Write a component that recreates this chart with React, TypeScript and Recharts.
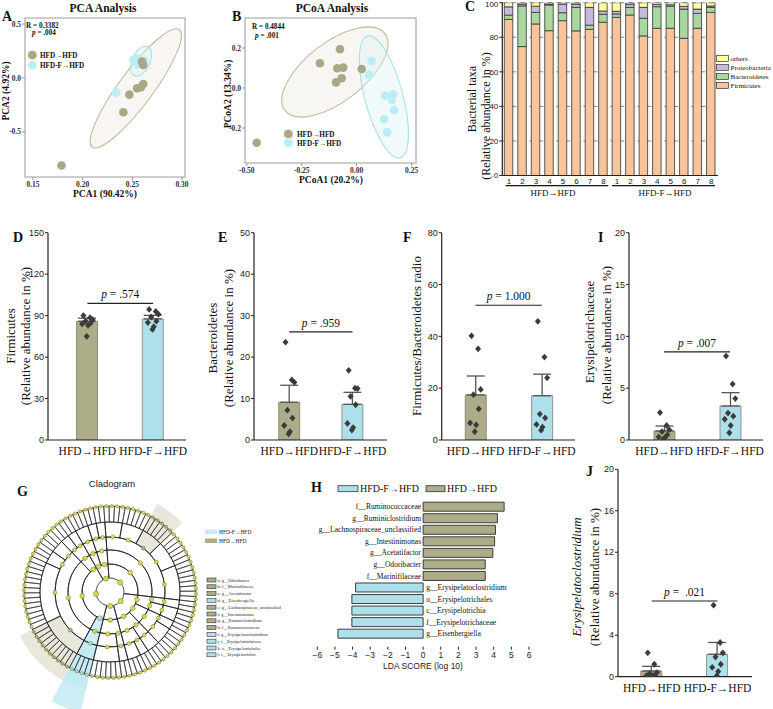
import React from 'react'
import {
  ScatterChart,
  Scatter,
  XAxis,
  YAxis,
  ReferenceArea,
  BarChart,
  Bar,
  CartesianGrid,
  ComposedChart,
  ErrorBar,
  ReferenceLine,
  Cell,
  LabelList,
  PieChart,
  Pie,
} from 'recharts'

const W = 773
const H = 709
const OLIVE = '#ADAC88'
const CYAN = '#ADE0EA'
const NODE = '#D8D852'
const SERIF = '"Liberation Serif", "Times New Roman", serif'
const SANS = '"Liberation Sans", Arial, sans-serif'

// ---- A: PCA ----
const pcaHfd = [
  { x: 0.2597, y: 0.151 }, { x: 0.261, y: 0.12 }, { x: 0.261, y: -0.056 }, { x: 0.2587, y: -0.086 },
  { x: 0.2547, y: -0.096 }, { x: 0.247, y: -0.155 }, { x: 0.241, y: -0.318 }, { x: 0.1787, y: -0.812 },
]
const pcaHfdF = [
  { x: 0.2337, y: -0.136 }, { x: 0.2537, y: 0.182 }, { x: 0.251, y: 0.165 }, { x: 0.256, y: 0.175 },
  { x: 0.258, y: 0.14 }, { x: 0.262, y: 0.16 }, { x: 0.255, y: 0.125 }, { x: 0.26, y: 0.135 },
]
const pcaCentres = [{ x: 0.2535, y: -0.097 }, { x: 0.2588, y: 0.155 }]

// ---- B: PCoA ----
const pcoaHfd = [
  { x: -0.167, y: 0.124 }, { x: -0.076, y: 0.194 }, { x: -0.088, y: 0.099 }, { x: -0.061, y: 0.102 },
  { x: -0.068, y: 0.049 }, { x: -0.094, y: 0.028 }, { x: 0.023, y: 0.095 }, { x: -0.455, y: -0.274 },
]
const pcoaHfdF = [
  { x: 0.068, y: 0.135 }, { x: 0.057, y: 0.065 }, { x: 0.129, y: -0.038 }, { x: 0.166, y: -0.03 },
  { x: 0.17, y: -0.11 }, { x: 0.125, y: -0.157 }, { x: 0.139, y: -0.222 }, { x: 0.16, y: -0.06 },
]
const pcoaCentres = [{ x: -0.099, y: 0.08 }, { x: 0.124, y: -0.045 }]

// ---- C: stacked taxa ----
const sampleIds = ['a1', 'a2', 'a3', 'a4', 'a5', 'a6', 'a7', 'a8', 'b1', 'b2', 'b3', 'b4', 'b5', 'b6', 'b7', 'b8']
const firmicutes = [90.3, 74.6, 87.7, 83.8, 89.6, 83.7, 84.6, 88.7, 91.5, 92.9, 80.8, 85.2, 85.2, 79.4, 85.2, 94.4]
const bacteroidetes = [2.5, 23.5, 6.7, 14.9, 4.6, 13.6, 2.4, 4.6, 2.0, 4.4, 10.2, 12.5, 12.8, 16.9, 8.6, 2.9]
const proteobacteria = [4.8, 1.1, 3.6, 0.5, 5.0, 1.9, 10.3, 1.9, 1.5, 1.9, 6.3, 1.3, 0.8, 1.6, 2.5, 0.8]
const others = [2.4, 0.8, 2.0, 0.8, 0.8, 0.8, 2.7, 4.8, 5.0, 0.8, 2.7, 1.0, 1.2, 2.1, 3.7, 1.9]
const taxaColors = { firm: '#F8C49B', bact: '#A8D8A0', proteo: '#C5B9DE', others: '#FFFFA0' }

// ---- D, E, F, I, J: group bars ----
const groups = ['HFD→HFD', 'HFD-F→HFD']
const jitter = [-0.06, 0.04, 0.08, -0.03, 0.05, -0.08, 0.01, -0.01]

const firmHfd = [90, 88.5, 87, 86, 84.5, 84, 83, 75]
const firmHfdF = [94.5, 93, 91, 89, 86, 85, 82, 80]
const firmMean = [85.9, 87.6]
const firmSd = [2.3, 2.6]

const bactHfd = [23.6, 14.5, 13.9, 7.2, 5.3, 3.5, 2.0, 1.5]
const bactHfdF = [16.8, 12.5, 12.4, 10.5, 8.5, 4.0, 3.0, 2.4]
const bactMean = [9.1, 8.6]
const bactSd = [4.1, 2.9]

const ratioHfd = [40.2, 35.2, 19.5, 17.5, 12, 6.6, 5.8, 3.2]
const ratioHfdF = [45.8, 32, 24, 10, 8.5, 6, 5, 3.8]
const ratioMean = [17.4, 17.1]
const ratioSd = [7.3, 8.3]

const erysHfd = [2.65, 1.4, 1.0, 0.8, 0.5, 0.3, 0.2, 0.1]
const erysHfdF = [8.1, 5.4, 4.0, 2.6, 2.3, 2.0, 1.4, 0.7]
const erysMean = [0.87, 3.28]
const erysSd = [0.48, 1.29]

const clostHfd = [2.3, 1.2, 0.4, 0.3, 0.2, 0.1, 0.1, 0.05]
const clostHfdF = [6.9, 3.3, 2.3, 1.9, 1.2, 0.9, 0.5, 0.1]
const clostMean = [0.55, 2.16]
const clostSd = [0.45, 1.14]

// ---- H: LDA ----
const ldaNames = [
  'f__Ruminococcaceae', 'g__Ruminiclostridium', 'g__Lachnospiraceae_unclassified', 'g__Intestinimonas',
  'g__Acetatifactor', 'g__Odoribacter', 'f__Marinifilaceae', 'g__Erysipelatoclostridium',
  'o__Erysipelotrichales', 'c__Erysipelotrichia', 'f__Erysipelotrichaceae', 'g__Eisenbergiella',
]
const ldaScores = [4.59, 4.21, 4.1, 4.05, 3.95, 3.52, 3.52, -3.83, -4.04, -4.04, -4.04, -4.83]

// ---- G: cladogram (leaf counts per clade, ring by ring) ----
const phylumLeaves = [19, 28, 7, 38, 8]
const classLeaves = [8, 6, 5, 28, 4, 3, 4, 30, 4, 8]
const classTag = ['', '', '', '', '', '', '', '', 'hfdf', '']
const orderLeaves = [5, 3, 6, 3, 2, 28, 4, 3, 4, 30, 4, 6, 2]
const familyLeaves = [3, 2, 3, 4, 2, 3, 2, 8, 6, 5, 5, 4, 2, 2, 3, 2, 2, 3, 3, 14, 10, 4, 6, 2]
const familyTag = ['', '', '', '', '', '', '', '', '', 'hfd', '', '', '', '', '', '', '', '', '', '', 'hfd', 'hfdf', '', '']
const cladeLegend = [
  'a: g__Odoribacter', 'b: f__Marinifilaceae', 'c: g__Acetatifactor', 'd: g__Eisenbergiella',
  'e: g__Lachnospiraceae_unclassified', 'f: g__Intestinimonas', 'g: g__Ruminiclostridium', 'h: f__Ruminococcaceae',
  'i: g__Erysipelatoclostridium', 'j: f__Erysipelotrichaceae', 'k: o__Erysipelotrichales', 'l: c__Erysipelotrichia',
]
const cladeLegendGroup = ['hfd', 'hfd', 'hfd', 'hfdf', 'hfd', 'hfd', 'hfd', 'hfd', 'hfdf', 'hfdf', 'hfdf', 'hfdf']

const RAD = Math.PI / 180

const box = (l: number, t: number, r: number, b: number, yw = 20, xh = 20) => ({
  left: l - yw,
  top: t,
  right: W - r,
  bottom: H - b - xh,
})

const Layer = ({ children }: { children: React.ReactNode }) => (
  <div style={{ position: 'absolute', left: 0, top: 0 }}>{children}</div>
)

const dot = (fill: string) => (p: any) => <circle cx={p.cx} cy={p.cy} r={4.3} fill={fill} />

const ellipse = (rx: number, ry: number, rot: number, stroke: string, fill: string) => (p: any) => (
  <ellipse
    cx={p.cx}
    cy={p.cy}
    rx={rx}
    ry={ry}
    transform={`rotate(${rot} ${p.cx} ${p.cy})`}
    fill={fill}
    fillOpacity={0.45}
    stroke={stroke}
    strokeWidth={1.1}
  />
)

const diamond = (p: any) => (
  <polygon
    points={`${p.cx},${p.cy - 3.4} ${p.cx + 3},${p.cy} ${p.cx},${p.cy + 3.4} ${p.cx - 3},${p.cy}`}
    fill="#3b3b3b"
  />
)

const ordTick = { fontFamily: SERIF, fontWeight: 700, fontSize: 7.5, fill: '#333' }

function OrdPanel({ frame, xDom, yDom, xTicks, yTicks, hfd, hfdf, centres, shapes }: any) {
  return (
    <Layer>
      <ScatterChart width={W} height={H} margin={box(frame[0], frame[1], frame[2], frame[3])}>
        <XAxis
          type="number"
          dataKey="x"
          domain={xDom}
          ticks={xTicks}
          allowDataOverflow
          height={20}
          axisLine={false}
          tickSize={3}
          tickLine={{ stroke: '#999' }}
          tick={ordTick}
          tickFormatter={(v: number) => v.toFixed(2)}
        />
        <YAxis
          type="number"
          dataKey="y"
          domain={yDom}
          ticks={yTicks}
          allowDataOverflow
          width={20}
          axisLine={false}
          tickSize={3}
          tickMargin={1}
          tickLine={{ stroke: '#999' }}
          tick={ordTick}
          tickFormatter={(v: number) => v.toFixed(1)}
        />
        <ReferenceArea x1={xDom[0]} x2={xDom[1]} y1={yDom[0]} y2={yDom[1]} fill="none" stroke="#BDBDBD" strokeWidth={1.6} />
        <Scatter data={[centres[0]]} shape={shapes[0]} isAnimationActive={false} />
        <Scatter data={[centres[1]]} shape={shapes[1]} isAnimationActive={false} />
        <Scatter data={hfdf} shape={dot('#B9EEF2')} isAnimationActive={false} />
        <Scatter data={hfd} shape={dot('#A9A884')} isAnimationActive={false} />
      </ScatterChart>
    </Layer>
  )
}

const pLabel = (text: string) => (props: any) => {
  const vb = props.viewBox || {}
  return (
    <text x={vb.x + (vb.width || 0) / 2} y={vb.y - 5} textAnchor="middle" fontFamily={SERIF} fontSize={11.5} fill="#111">
      <tspan fontStyle="italic">p</tspan>
      {text}
    </text>
  )
}

// frame = [left, top, right, bottom] of the plot, centres = pixel centres of the two bars
function GroupPanel({ frame, centres, yMax, yTicks, hfd, hfdf, mean, sd, pY, pText }: any) {
  const [left, top, right, bottom] = frame
  const band = centres[1] - centres[0]
  const pl = Math.max(0, centres[0] - band / 2 - left)
  const pr = Math.max(0, right - centres[1] - band / 2)
  const bandReal = (right - left - pl - pr) / 2
  const numDomain = [0.5 - pl / bandReal, 2.5 + pr / bandReal]

  const bars = groups.map((name, i) => ({ name, v: mean[i], err: [0, sd[i]] }))
  const ptsA = hfd.map((v: number, i: number) => ({ x: 1 + jitter[i], v }))
  const ptsB = hfdf.map((v: number, i: number) => ({ x: 2 + jitter[i], v }))
  return (
    <Layer>
      <ComposedChart width={W} height={H} data={bars} margin={box(left, top, right, bottom)}>
        <XAxis
          xAxisId="cat"
          type="category"
          dataKey="name"
          interval={0}
          padding={{ left: pl, right: pr }}
          height={20}
          tickLine={false}
          tickSize={5}
          tickMargin={2}
          axisLine={{ stroke: '#222', strokeWidth: 1.2 }}
          tick={{ fontFamily: SERIF, fontSize: 11.5, fill: '#111' }}
        />
        <XAxis xAxisId="num" type="number" dataKey="x" domain={numDomain} allowDataOverflow hide />
        <YAxis
          type="number"
          domain={[0, yMax]}
          ticks={yTicks}
          allowDataOverflow
          width={20}
          tickSize={3}
          tickMargin={1}
          axisLine={{ stroke: '#222', strokeWidth: 1.2 }}
          tickLine={{ stroke: '#222' }}
          tick={{ fontFamily: SANS, fontSize: 9, fill: '#222' }}
        />
        <Bar xAxisId="cat" dataKey="v" barSize={21} stroke="#7d7d72" strokeWidth={0.8} isAnimationActive={false}>
          <Cell fill={OLIVE} />
          <Cell fill={CYAN} />
          <ErrorBar dataKey="err" width={9} stroke="#555" strokeWidth={1.3} direction="y" />
        </Bar>
        <Scatter xAxisId="num" data={ptsA} dataKey="v" shape={diamond} isAnimationActive={false} />
        <Scatter xAxisId="num" data={ptsB} dataKey="v" shape={diamond} isAnimationActive={false} />
        <ReferenceLine
          xAxisId="num"
          segment={[{ x: 1, y: pY }, { x: 2, y: pY }]}
          stroke="#222"
          strokeWidth={1.2}
          label={pLabel(pText)}
        />
      </ComposedChart>
    </Layer>
  )
}

const nodeAt = (r: number, size: number, tags?: string[]) => (props: any) => {
  const a = -props.midAngle * RAD
  const t = tags ? tags[props.index] : ''
  const fill = t === 'hfd' ? OLIVE : t === 'hfdf' ? CYAN : NODE
  return (
    <circle
      key={`n-${r}-${props.index}`}
      cx={props.cx + r * Math.cos(a)}
      cy={props.cy + r * Math.sin(a)}
      r={size}
      fill={fill}
      stroke="#74742e"
      strokeWidth={0.5}
    />
  )
}

function Cladogram() {
  const cx = 110
  const cy = 592
  const start = -75
  const end = 285
  const phyla = phylumLeaves.map((v) => ({ v }))
  const classes = classLeaves.map((v, i) => ({ v, tag: classTag[i] }))
  const orders = orderLeaves.map((v) => ({ v }))
  const families = familyLeaves.map((v, i) => ({ v, tag: familyTag[i] }))
  const genera = familyLeaves.flatMap((n, f) => Array.from({ length: n }, () => ({ v: 1, tag: familyTag[f] })))
  const genusTag = genera.map((g) => g.tag)
  const ring = { cx, cy, startAngle: start, endAngle: end, dataKey: 'v', stroke: '#1e1e1e', strokeWidth: 0.8, fill: 'none', labelLine: false, isAnimationActive: false }
  return (
    <Layer>
      <PieChart width={W} height={H} margin={{ top: 0, left: 0, right: 0, bottom: 0 }}>
        <Pie data={classes} cx={cx} cy={cy} startAngle={start} endAngle={end} dataKey="v" innerRadius={30} outerRadius={124} stroke="none" isAnimationActive={false}>
          {classes.map((c, i) => (
            <Cell key={i} fill={c.tag === 'hfdf' ? '#CDEEF4' : 'none'} />
          ))}
        </Pie>
        <Pie data={families} cx={cx} cy={cy} startAngle={start} endAngle={end} dataKey="v" innerRadius={55} outerRadius={100} stroke="none" isAnimationActive={false}>
          {families.map((c, i) => (
            <Cell key={i} fill={c.tag === 'hfd' ? '#E9E7DB' : c.tag === 'hfdf' ? '#C4EBF2' : 'none'} />
          ))}
        </Pie>
        <Pie {...ring} data={phyla} innerRadius={14} outerRadius={28} label={nodeAt(14, 2.6)} />
        <Pie {...ring} data={classes} innerRadius={28} outerRadius={42} label={nodeAt(28, 2.4, classTag)} />
        <Pie {...ring} data={orders} innerRadius={42} outerRadius={55} label={nodeAt(42, 2.2)} />
        <Pie {...ring} data={families} innerRadius={55} outerRadius={70} label={nodeAt(55, 2, familyTag)} />
        <Pie {...ring} data={genera} innerRadius={70} outerRadius={86} strokeWidth={0.6} label={nodeAt(86, 1.6, genusTag)} />
      </PieChart>
    </Layer>
  )
}

const ldaLabel = (props: any) => {
  const { x, y, width, height, index } = props
  const v = ldaScores[index]
  const zero = v >= 0 ? Math.min(x, x + width) : Math.max(x, x + width)
  return (
    <text
      x={v >= 0 ? zero - 2 : zero + 3}
      y={y + height / 2 + 2.6}
      textAnchor={v >= 0 ? 'end' : 'start'}
      fontFamily={SERIF}
      fontSize={7.6}
      fill="#111"
    >
      {ldaNames[index]}
    </text>
  )
}

const Rot = ({ x, y, children, size = 13, italic = false, bold = false }: any) => (
  <text
    x={x}
    y={y}
    transform={`rotate(-90 ${x} ${y})`}
    textAnchor="middle"
    fontFamily={SERIF}
    fontSize={size}
    fontStyle={italic ? 'italic' : 'normal'}
    fontWeight={bold ? 700 : 400}
    fill="#111"
  >
    {children}
  </text>
)

export default function App() {
  const cData = sampleIds.map((id, i) => ({
    id,
    firm: firmicutes[i],
    bact: bacteroidetes[i],
    proteo: proteobacteria[i],
    others: others[i],
  }))
  const ldaData = ldaNames.map((name, i) => ({ name, score: ldaScores[i] }))
  const letter = { fontFamily: SERIF, fontWeight: 700, fontSize: 14, fill: '#111' }
  const small = { fontFamily: SERIF, fontWeight: 700, fontSize: 7.2, fill: '#111' }

  return (
    <div style={{ position: 'absolute', left: 0, top: 0, width: W, height: H, background: '#fff', overflow: 'hidden' }}>
      {/* A */}
      <OrdPanel
        frame={[25, 18, 185, 177]}
        xDom={[0.142, 0.303]}
        yDom={[-0.919, 0.556]}
        xTicks={[0.15, 0.2, 0.25, 0.3]}
        yTicks={[-0.5, 0, 0.5]}
        hfd={pcaHfd}
        hfdf={pcaHfdF}
        centres={pcaCentres}
        shapes={[ellipse(73, 17, -53.4, '#BFBB9C', '#EEECE2'), ellipse(16, 9, -65, '#A8E2E8', '#DDF5F7')]}
      />
      {/* B */}
      <OrdPanel
        frame={[245, 18, 416, 163]}
        xDom={[-0.508, 0.27]}
        yDom={[-0.375, 0.35]}
        xTicks={[-0.5, -0.25, 0, 0.25]}
        yTicks={[-0.2, 0, 0.2]}
        hfd={pcoaHfd}
        hfdf={pcoaHfdF}
        centres={pcoaCentres}
        shapes={[ellipse(63, 29.5, -37.6, '#BFBB9C', '#EEECE2'), ellipse(63, 19, 75, '#A8E2E8', '#DDF5F7')]}
      />

      {/* C */}
      <Layer>
        <BarChart width={W} height={H} data={cData} margin={box(502.3, 2.7, 718, 175.5)} barSize={8.5}>
          <CartesianGrid vertical={false} stroke="#8a8a8a" strokeDasharray="5 4" />
          <XAxis
            dataKey="id"
            interval={0}
            height={20}
            tickLine={false}
            tickSize={2}
            tickMargin={1}
            axisLine={{ stroke: '#222', strokeWidth: 1.2 }}
            tick={{ fontFamily: SANS, fontSize: 8, fill: '#111' }}
            tickFormatter={(id: string) => id.slice(1)}
          />
          <YAxis
            domain={[0, 100]}
            ticks={[0, 20, 40, 60, 80, 100]}
            allowDataOverflow
            width={20}
            tickSize={3}
            tickMargin={1}
            axisLine={{ stroke: '#222', strokeWidth: 1.2 }}
            tickLine={{ stroke: '#222' }}
            tick={{ fontFamily: SANS, fontSize: 8, fill: '#222' }}
          />
          <Bar dataKey="firm" stackId="t" fill={taxaColors.firm} stroke="#333" strokeWidth={0.8} isAnimationActive={false} />
          <Bar dataKey="bact" stackId="t" fill={taxaColors.bact} stroke="#333" strokeWidth={0.8} isAnimationActive={false} />
          <Bar dataKey="proteo" stackId="t" fill={taxaColors.proteo} stroke="#333" strokeWidth={0.8} isAnimationActive={false} />
          <Bar dataKey="others" stackId="t" fill={taxaColors.others} stroke="#333" strokeWidth={0.8} isAnimationActive={false} />
        </BarChart>
      </Layer>

      {/* D E F I */}
      <GroupPanel frame={[48, 232.7, 186, 440]} centres={[87.5, 153.5]} yMax={150} yTicks={[0, 30, 60, 90, 120, 150]}
        hfd={firmHfd} hfdf={firmHfdF} mean={firmMean} sd={firmSd} pY={98.8} pText=" = .574" />
      <GroupPanel frame={[254, 232.7, 387, 440]} centres={[289.3, 352.5]} yMax={50} yTicks={[0, 10, 20, 30, 40, 50]}
        hfd={bactHfd} hfdf={bactHfdF} mean={bactMean} sd={bactSd} pY={26.1} pText=" = .959" />
      <GroupPanel frame={[441.7, 232.7, 575, 440]} centres={[475.5, 542]} yMax={80} yTicks={[0, 20, 40, 60, 80]}
        hfd={ratioHfd} hfdf={ratioHfdF} mean={ratioMean} sd={ratioSd} pY={52} pText=" = 1.000" />
      <GroupPanel frame={[629, 232.7, 763, 440]} centres={[664, 730]} yMax={20} yTicks={[0, 5, 10, 15, 20]}
        hfd={erysHfd} hfdf={erysHfdF} mean={erysMean} sd={erysSd} pY={8.5} pText=" = .007" />
      {/* J */}
      <GroupPanel frame={[618, 469.3, 752, 676.7]} centres={[651.7, 717.5]} yMax={20} yTicks={[0, 4, 8, 12, 16, 20]}
        hfd={clostHfd} hfdf={clostHfdF} mean={clostMean} sd={clostSd} pY={7.3} pText={' =\u00a0 .021'} />

      {/* G */}
      <Cladogram />

      {/* H */}
      <Layer>
        <BarChart width={W} height={H} data={ldaData} layout="vertical" margin={box(317.3, 501.2, 529, 646.7, 0)} barSize={9}>
          <XAxis
            type="number"
            domain={[-6, 6]}
            ticks={[-6, -5, -4, -3, -2, -1, 0, 1, 2, 3, 4, 5, 6]}
            height={20}
            axisLine={false}
            tickSize={3}
            tickMargin={2}
            tickLine={{ stroke: '#222' }}
            tick={{ fontFamily: SANS, fontSize: 8.5, fill: '#222' }}
            tickFormatter={(v: number) => (v < 0 ? `\u2212${-v}` : `${v}`)}
          />
          <YAxis type="category" dataKey="name" hide padding={{ top: 0, bottom: 7 }} />
          <Bar dataKey="score" stroke="#2a2a2a" strokeWidth={0.9} isAnimationActive={false}>
            {ldaData.map((d, i) => (
              <Cell key={i} fill={d.score >= 0 ? OLIVE : CYAN} />
            ))}
            <LabelList dataKey="name" content={ldaLabel} />
          </Bar>
        </BarChart>
      </Layer>

      {/* text overlay */}
      <svg width={W} height={H} style={{ position: 'absolute', left: 0, top: 0, pointerEvents: 'none' }}>
        {/* panel letters */}
        <text x={2} y={21} {...letter}>A</text>
        <text x={232} y={21} {...letter}>B</text>
        <text x={465} y={11} {...letter}>C</text>
        <text x={13} y={242} {...letter}>D</text>
        <text x={218} y={242} {...letter}>E</text>
        <text x={403} y={242} {...letter}>F</text>
        <text x={598} y={242} {...letter}>I</text>
        <text x={17} y={496} {...letter}>G</text>
        <text x={311} y={492} {...letter}>H</text>
        <text x={586} y={476} {...letter}>J</text>

        {/* A */}
        <text x={103} y={12} textAnchor="middle" fontFamily={SERIF} fontWeight={700} fontSize={11.5} fill="#111">PCA Analysis</text>
        <text x={105} y={197} textAnchor="middle" fontFamily={SERIF} fontWeight={700} fontSize={9.5} fill="#111">PCA1 (90.42%)</text>
        <Rot x={9} y={91} size={9.5} bold>PCA2 (4.92%)</Rot>
        <text x={26} y={28} {...small}>R = 0.3382</text>
        <text x={32} y={35} {...small}><tspan fontStyle="italic">p</tspan> = .004</text>
        <rect x={27.5} y={50.5} width={10} height={9} fill="#EDEDED" />
        <circle cx={32.3} cy={55} r={4.3} fill="#A9A884" />
        <rect x={27.5} y={60.5} width={10} height={9} fill="#F2FBFC" />
        <circle cx={32.3} cy={65} r={4.3} fill="#B9EEF2" />
        <text x={40} y={58} {...small}>HFD→HFD</text>
        <text x={40} y={68} {...small}>HFD-F→HFD</text>

        {/* B */}
        <text x={332} y={12} textAnchor="middle" fontFamily={SERIF} fontWeight={700} fontSize={11.5} fill="#111">PCoA Analysis</text>
        <text x={331} y={183} textAnchor="middle" fontFamily={SERIF} fontWeight={700} fontSize={9.5} fill="#111">PCoA1 (20.2%)</text>
        <Rot x={231} y={94} size={9.5} bold>PCoA2 (13.34%)</Rot>
        <text x={252} y={29} {...small}>R = 0.4844</text>
        <text x={255} y={38} {...small}><tspan fontStyle="italic">p</tspan> = .001</text>
        <rect x={283.5} y={129.5} width={10} height={9} fill="#EDEDED" />
        <circle cx={288.3} cy={134} r={4.3} fill="#A9A884" />
        <rect x={283.5} y={138.5} width={10} height={9} fill="#F2FBFC" />
        <circle cx={288.3} cy={143} r={4.3} fill="#B9EEF2" />
        <text x={297} y={137} {...small}>HFD→HFD</text>
        <text x={297} y={146} {...small}>HFD-F→HFD</text>

        {/* C */}
        <Rot x={476} y={99} size={12}>Bacterial taxa</Rot>
        <Rot x={490} y={116} size={12}>(Relative abundance in %)</Rot>
        <line x1={505.7} x2={608.3} y1={185.7} y2={185.7} stroke="#111" strokeWidth={1.2} />
        <line x1={612} x2={715} y1={185.7} y2={185.7} stroke="#111" strokeWidth={1.2} />
        <text x={553} y={196} textAnchor="middle" fontFamily={SERIF} fontSize={9} fill="#111">HFD→HFD</text>
        <text x={665} y={196} textAnchor="middle" fontFamily={SERIF} fontSize={9} fill="#111">HFD-F→HFD</text>
        {[
          ['others', taxaColors.others],
          ['Proteobacteria', taxaColors.proteo],
          ['Bacteroidetes', taxaColors.bact],
          ['Firmicutes', taxaColors.firm],
        ].map(([name, col], i) => (
          <g key={name}>
            <rect x={716.5} y={55.5 + i * 9} width={12} height={6} fill={col} stroke="#333" strokeWidth={0.7} />
            <text x={730.5} y={61 + i * 9} fontFamily={SERIF} fontSize={7} fill="#111">{name}</text>
          </g>
        ))}

        {/* D E F I J y labels */}
        <Rot x={15} y={336}>Firmicutes</Rot>
        <Rot x={30} y={336}>(Relative abundance in %)</Rot>
        <Rot x={217} y={338}>Bacteroidetes</Rot>
        <Rot x={233} y={338}>(Relative abundance in %)</Rot>
        <Rot x={421} y={336}>Firmicutes/Bacteroidetes radio</Rot>
        <Rot x={594} y={332}>Erysipelotrichaceae</Rot>
        <Rot x={611} y={335}>(Relative abundance in %)</Rot>
        <Rot x={581} y={577} italic>Erysipelatoclostridium</Rot>
        <Rot x={599} y={577}>(Relative abundance in %)</Rot>

        {/* G */}
        <text x={112} y={487} textAnchor="middle" fontFamily={SANS} fontSize={9.5} fill="#222">Cladogram</text>
        <rect x={205} y={529.5} width={12} height={4.5} fill="#C4EBF2" />
        <text x={219} y={534} fontFamily={SERIF} fontSize={5.5} fill="#222">HFD-F→HFD</text>
        <rect x={205} y={538.5} width={12} height={4.5} fill={OLIVE} />
        <text x={219} y={543} fontFamily={SERIF} fontSize={5.5} fill="#222">HFD→HFD</text>
        {cladeLegend.map((t, i) => (
          <g key={t}>
            <rect x={207} y={578 + i * 6.8} width={9} height={4} fill={cladeLegendGroup[i] === 'hfd' ? OLIVE : CYAN} stroke="#333" strokeWidth={0.6} />
            <text x={217.5} y={581.6 + i * 6.8} fontFamily={SERIF} fontSize={4.4} fill="#222">{t}</text>
          </g>
        ))}

        {/* H */}
        <rect x={338} y={485.7} width={20} height={6} fill={CYAN} stroke="#333" strokeWidth={0.8} />
        <text x={360} y={492} fontFamily={SERIF} fontSize={10} fill="#111">HFD-F→HFD</text>
        <rect x={426} y={485.7} width={19} height={6} fill={OLIVE} stroke="#333" strokeWidth={0.8} />
        <text x={447} y={492} fontFamily={SERIF} fontSize={10} fill="#111">HFD→HFD</text>
        <text x={423} y={669} textAnchor="middle" fontFamily={SANS} fontSize={8.5} fill="#222">LDA SCORE (log 10)</text>
      </svg>
    </div>
  )
}
